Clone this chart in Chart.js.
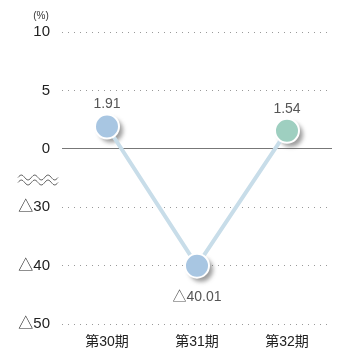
<!DOCTYPE html>
<html>
<head>
<meta charset="utf-8">
<script src="https://cdn.jsdelivr.net/npm/chart.js@4"></script>
<style>
  html, body { margin: 0; padding: 0; background: #fff; }
  #wrap { width: 346px; height: 351px; position: relative; }
</style>
</head>
<body>
<div id="wrap"><canvas id="chart"></canvas></div>
<script>
// data
let categories = ['第30期', '第31期', '第32期'];
let values = [1.91, -40.01, 1.54];
let pointColors = ['#a8c6e2', '#a8c6e2', '#9ecfc0'];
let yTickValues = [10, 5, 0, -30, -40, -50];

// broken axis: 0..-30 is squeezed into one tick step, below -30 half scale
function toAxis(v) {
  if (v >= 0) return v;
  if (v <= -30) return -5 + (v + 30) / 2;
  return v / 6;
}
function fmt(v) {
  return v < 0 ? '△' + Math.abs(v) : String(v);
}

let FONT = "'Liberation Sans', 'Noto Sans CJK JP', sans-serif";

let shadowPlugin = {
  id: 'shadows',
  beforeDatasetsDraw(chart) {
    let ctx = chart.ctx;
    let meta = chart.getDatasetMeta(0);
    ctx.save();
    ctx.filter = 'blur(2px)';
    ctx.fillStyle = 'rgba(60,60,60,0.5)';
    meta.data.forEach(p => {
      ctx.beginPath();
      ctx.arc(p.x + 4, p.y + 4, 12, 0, Math.PI * 2);
      ctx.fill();
    });
    ctx.restore();
  }
};

let extrasPlugin = {
  id: 'extras',
  afterDatasetsDraw(chart) {
    let ctx = chart.ctx;
    let meta = chart.getDatasetMeta(0);
    ctx.save();
    ctx.font = '14px ' + FONT;
    ctx.fillStyle = '#555';
    ctx.textAlign = 'center';
    ctx.textBaseline = 'middle';
    meta.data.forEach((p, i) => {
      let v = values[i];
      if (v >= 0) ctx.fillText(v.toFixed(2), p.x, p.y - 22);
      else ctx.fillText('△' + Math.abs(v).toFixed(2), p.x, p.y + 31);
    });
    ctx.restore();
  },
  afterDraw(chart) {
    let ctx = chart.ctx;
    let y = chart.scales.y;
    ctx.save();
    // unit
    ctx.font = '10px ' + FONT;
    ctx.fillStyle = '#333';
    ctx.textAlign = 'center';
    ctx.textBaseline = 'middle';
    ctx.fillText('(%)', 41, 16);
    // break mark
    let yb = y.getPixelForValue(-2.5) + 2;
    ctx.strokeStyle = '#666';
    ctx.lineWidth = 1;
    [-2.5, 2.5].forEach(off => {
      ctx.beginPath();
      let x0 = 18, w = 40;
      for (let k = 0; k <= 40; k++) {
        let x = x0 + k * w / 40;
        let yy = yb + off - 2.5 * Math.sin(k / 40 * Math.PI * 6);
        if (k === 0) ctx.moveTo(x, yy); else ctx.lineTo(x, yy);
      }
      ctx.stroke();
    });
    ctx.restore();
  }
};

let chartCanv = document.getElementById('chart').getContext('2d');

let chart = new Chart(chartCanv, {
  type: 'line',
  data: {
    labels: categories,
    datasets: [
      {
        data: values.map(toAxis),
        borderColor: '#c8dde9',
        borderWidth: 4,
        tension: 0,
        pointRadius: 12,
        pointHoverRadius: 12,
        pointBackgroundColor: pointColors,
        pointBorderColor: '#fff',
        pointBorderWidth: 2
      }
    ]
  },
  options: {
    responsive: true,
    maintainAspectRatio: false,
    animation: false,
    events: [],
    layout: { padding: { top: 32, right: 5, left: 0, bottom: 0 } },
    plugins: { legend: { display: false }, tooltip: { enabled: false } },
    scales: {
      x: {
        offset: true,
        grid: { display: false },
        border: { display: false },
        ticks: { color: '#222', font: { family: FONT, size: 14 }, padding: 2 },
        afterFit(s) { s.height = 27; }
      },
      y: {
        min: -15,
        max: 10,
        afterBuildTicks(s) {
          s.ticks = yTickValues.map(v => ({ value: toAxis(v) }));
        },
        grid: {
          drawTicks: false,
          color: c => (c.tick && c.tick.value === 0) ? '#777' : '#999',
          lineWidth: 1
        },
        border: {
          display: false,
          dash: c => (c.tick && c.tick.value === 0) ? [] : [1, 5]
        },
        ticks: {
          color: '#222',
          font: { family: FONT, size: 15 },
          padding: 12,
          callback(val) {
            let i = yTickValues.findIndex(v => toAxis(v) === val);
            return i >= 0 ? fmt(yTickValues[i]) : '';
          }
        },
        afterFit(s) { s.width = 62; }
      }
    }
  },
  plugins: [shadowPlugin, extrasPlugin]
});
</script>
</body>
</html>
